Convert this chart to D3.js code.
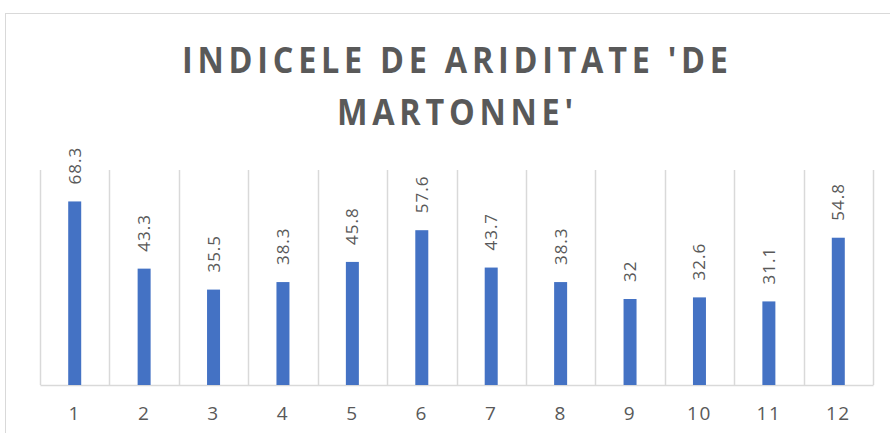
<!DOCTYPE html>
<html>
<head>
<meta charset="utf-8">
<script src="https://cdn.jsdelivr.net/npm/d3@7"></script>
<style>
  html, body { margin: 0; padding: 0; background: #fff; }
  svg { display: block; }
</style>
</head>
<body>
<svg id="chart" width="890" height="433"></svg>
<script>
// Monthly De Martonne aridity index
const months = ["1", "2", "3", "4", "5", "6", "7", "8", "9", "10", "11", "12"];
const aridity = [68.3, 43.3, 35.5, 38.3, 45.8, 57.6, 43.7, 38.3, 32, 32.6, 31.1, 54.8];
const titleLines = ["INDICELE DE ARIDITATE 'DE", "MARTONNE'"];

const svg = d3.select("#chart");
const plot = { left: 40, right: 873, top: 170, bottom: 385 };
const textColor = "#595959";
const gridColor = "#d9d9d9";
const font = "'Open Sans', 'Noto Sans', sans-serif";

// chart frame
svg.append("rect")
  .attr("x", 5.5).attr("y", 13.5)
  .attr("width", 1000).attr("height", 1000)
  .attr("fill", "#fff").attr("stroke", gridColor).attr("stroke-width", 1);

const x = d3.scaleBand().domain(months).range([plot.left, plot.right]).padding(0);
const y = d3.scaleLinear().domain([0, 80]).range([plot.bottom, plot.top]);

// vertical separators between categories
const edges = months.map(m => x(m)).concat([plot.right]);
svg.append("g").selectAll("line").data(edges).join("line")
  .attr("x1", d => Math.round(d) + 0.5).attr("x2", d => Math.round(d) + 0.5)
  .attr("y1", plot.top).attr("y2", plot.bottom)
  .attr("stroke", gridColor).attr("stroke-width", 1.5);

// category axis
const xAxis = svg.append("g")
  .attr("transform", `translate(0,${plot.bottom})`)
  .call(d3.axisBottom(x).tickSize(0).tickPadding(0));
xAxis.select(".domain").attr("stroke", gridColor).attr("stroke-width", 1.5);
xAxis.selectAll("text")
  .attr("dy", null)
  .attr("y", 35)
  .attr("fill", textColor)
  .style("font-family", font)
  .style("font-size", "19px")
  .style("letter-spacing", "1.5px");

// bars
const barW = 13;
svg.append("g").selectAll("rect").data(aridity).join("rect")
  .attr("x", (d, i) => x(months[i]) + x.bandwidth() / 2 - barW / 2)
  .attr("y", d => y(d))
  .attr("width", barW)
  .attr("height", d => plot.bottom - y(d))
  .attr("fill", "#4472C4");

// value labels, rotated above each bar
svg.append("g").selectAll("text").data(aridity).join("text")
  .attr("transform", (d, i) => {
    const cx = x(months[i]) + x.bandwidth() / 2;
    return `translate(${cx + 6},${y(d) - 17}) rotate(-90)`;
  })
  .attr("text-anchor", "start")
  .attr("fill", textColor)
  .style("font-family", font)
  .style("font-size", "17px")
  .style("letter-spacing", "1px")
  .text(d => String(d));

// title: slightly narrowed glyphs, spaced out to the set width
const titleSize = 36;
const squeeze = 0.9;
const titleCenter = 455;
const titleWidth = 546;
const baselines = [73, 125];
const probe = svg.append("text")
  .style("font-family", font).style("font-size", titleSize + "px").style("font-weight", 700)
  .text(titleLines[0]);
const natural = probe.node().getComputedTextLength();
probe.remove();
const spacing = Math.max(0, (titleWidth / squeeze - natural) / (titleLines[0].length - 1));

titleLines.forEach((line, i) => {
  const g = svg.append("g")
    .attr("transform", `translate(${titleCenter},${baselines[i]}) scale(${squeeze},1)`);
  const t = g.append("text")
    .attr("fill", textColor)
    .style("font-family", font)
    .style("font-size", titleSize + "px")
    .style("font-weight", 700)
    .style("letter-spacing", spacing + "px")
    .text(line);
  const w = t.node().getComputedTextLength() - spacing;
  t.attr("x", -w / 2);
});
</script>
</body>
</html>
